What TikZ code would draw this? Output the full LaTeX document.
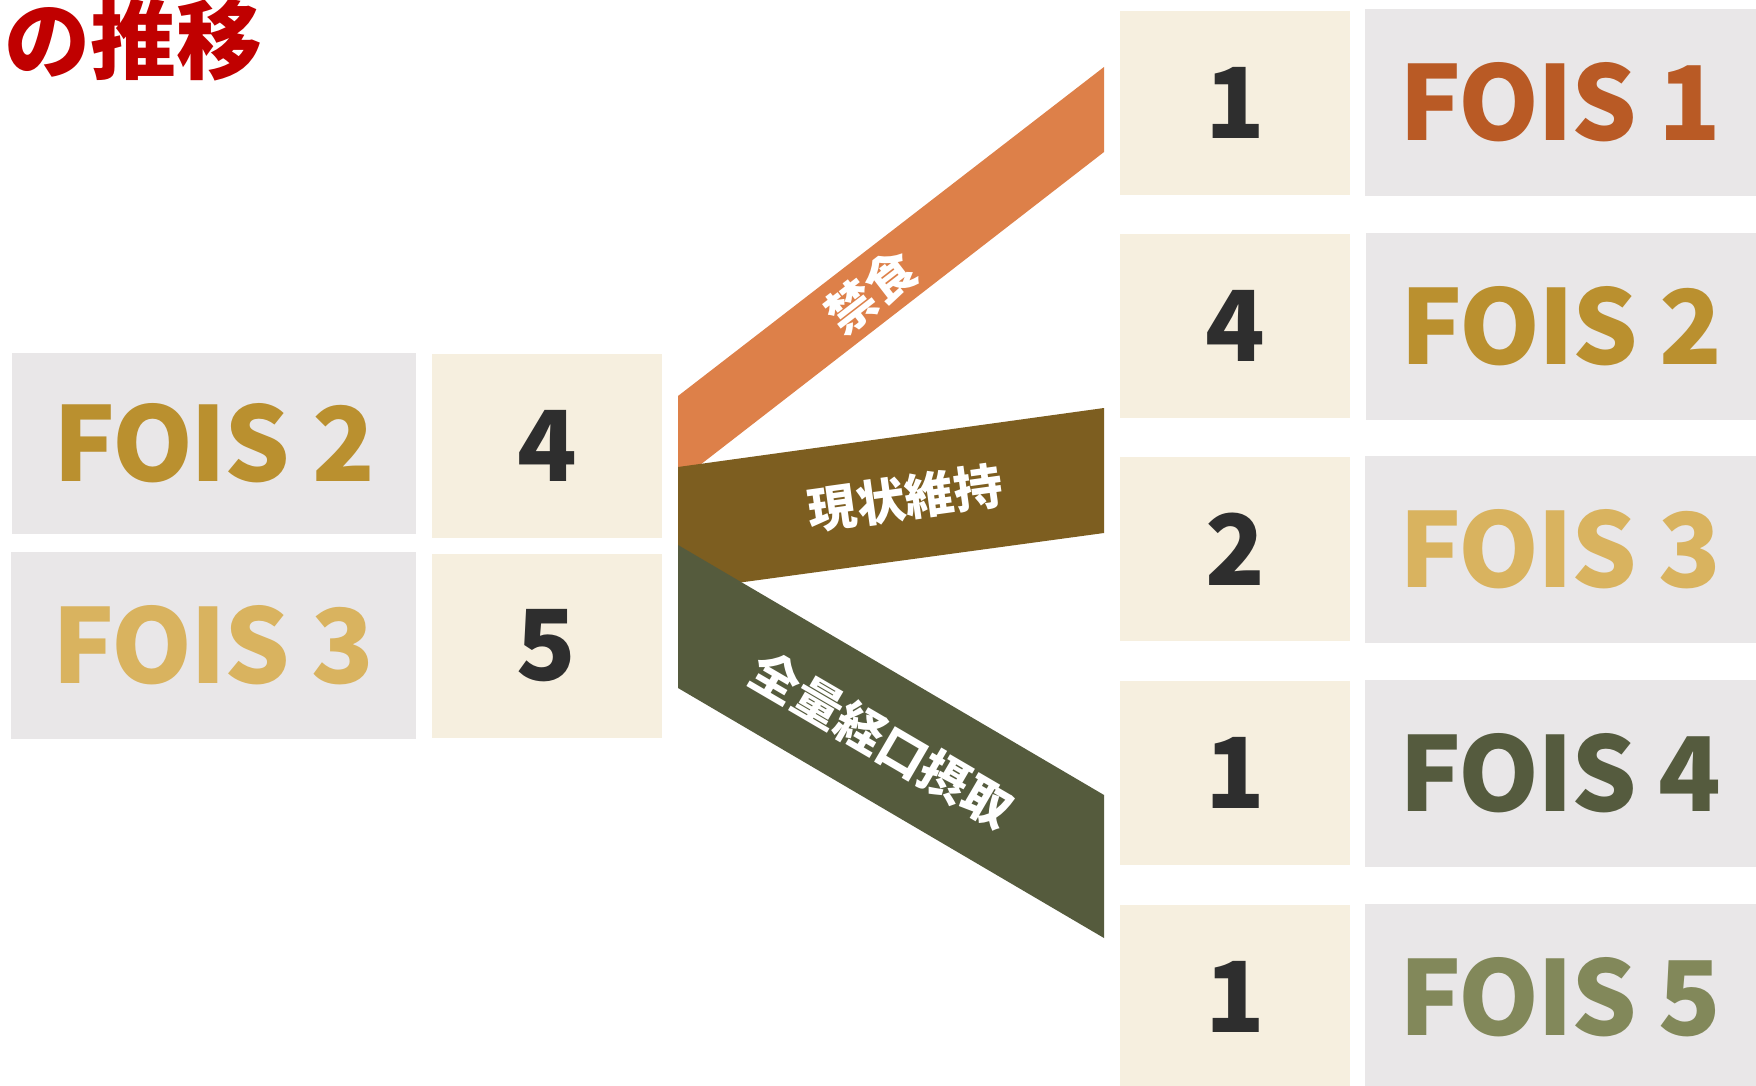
\documentclass[tikz,border=0pt]{standalone}
\usepackage{fontspec}
\setmainfont{Noto Sans CJK JP}
\newfontfamily\foisfont{Noto Sans CJK JP}[LetterSpace=-2]
\definecolor{greybox}{HTML}{E9E7E8}
\definecolor{creambox}{HTML}{F6EFDF}
\definecolor{numcol}{HTML}{2E2E2E}
\definecolor{foisA}{HTML}{B95A25}
\definecolor{foisB}{HTML}{BA902F}
\definecolor{foisC}{HTML}{D9B35F}
\definecolor{foisD}{HTML}{555B3E}
\definecolor{foisE}{HTML}{82885A}
\definecolor{bandA}{HTML}{DD8049}
\definecolor{bandB}{HTML}{7D5E20}
\definecolor{bandC}{HTML}{555B3D}
\definecolor{titlered}{HTML}{C00000}
\begin{document}
\begin{tikzpicture}[x=0.5pt,y=-0.5pt,
  cell/.style={inner sep=0pt, outer sep=0pt, anchor=center},
  greycell/.style={cell, fill=greybox, minimum height=93.5pt, font=\foisfont\fontsize{51.5}{55}\selectfont\bfseries},
  creamcell/.style={cell, fill=creambox, minimum width=115pt, minimum height=92pt, text=numcol, font=\fontsize{49}{52}\selectfont\bfseries},
  bandlabel/.style={inner sep=0pt, text=white, font=\fontsize{24.5}{26}\selectfont\bfseries}]
\useasboundingbox (0,0) rectangle (1756,1086);
\fill[white] (0,0) rectangle (1756,1086);

% title
\node[inner sep=0pt, anchor=base west, text=titlered, font=\fontsize{43}{45}\selectfont\bfseries] (title) at (4,73) {の推移};

% left column
\node[greycell, minimum width=202pt, minimum height=90.5pt, text=foisB] (lg2) at (214,443.5) {FOIS 2};
\node[creamcell] (lc4) at (547,446) {4};
\node[greycell, minimum width=202.5pt, text=foisC] (lg3) at (213.5,645.5) {FOIS 3};
\node[creamcell] (lc5) at (546.5,646) {5};

% right column: counts
\node[creamcell] (rc1) at (1235,103) {1};
\node[creamcell] (rc2) at (1235,326) {4};
\node[creamcell] (rc3) at (1235,549) {2};
\node[creamcell] (rc4) at (1235,773) {1};
\node[creamcell] (rc5) at (1235,997) {1};

% right column: FOIS labels
\node[greycell, minimum width=195.5pt, text=foisA] (rg1) at (1560.5,102.5) {FOIS 1};
\node[greycell, minimum width=195.5pt, text=foisB] (rg2) at (1561.5,326.5) {FOIS 2};
\node[greycell, minimum width=195.5pt, text=foisC] (rg3) at (1560.5,549.5) {FOIS 3};
\node[greycell, minimum width=195.5pt, text=foisD] (rg4) at (1560.5,773.5) {FOIS 4};
\node[greycell, minimum width=195.5pt, text=foisE] (rg5) at (1560.5,997.5) {FOIS 5};

% bands
\coordinate (aTL) at (678,396);  \coordinate (aBL) at (678,482);
\coordinate (aTR) at (1104,67);  \coordinate (aBR) at (1104,152);
\coordinate (bTL) at (678,467);  \coordinate (bBL) at (678,591);
\coordinate (bTR) at (1104,408); \coordinate (bBR) at (1104,533);
\coordinate (cTL) at (678,545);  \coordinate (cBL) at (678,688);
\coordinate (cTR) at (1104,795); \coordinate (cBR) at (1104,938);
\fill[bandA] (aTL) -- (aTR) -- (aBR) -- (aBL) -- cycle;
\fill[bandB] (bTL) -- (bTR) -- (bBR) -- (bBL) -- cycle;
\fill[bandC] (cTL) -- (cTR) -- (cBR) -- (cBL) -- cycle;

\node[bandlabel, rotate=37.7] (lblA) at (871,292) {禁食};
\node[bandlabel, rotate=7.9] (lblB) at (905,498) {現状維持};
\node[bandlabel, rotate=-30.3] (lblC) at (882,740) {全量経口摂取};
\end{tikzpicture}
\end{document}
